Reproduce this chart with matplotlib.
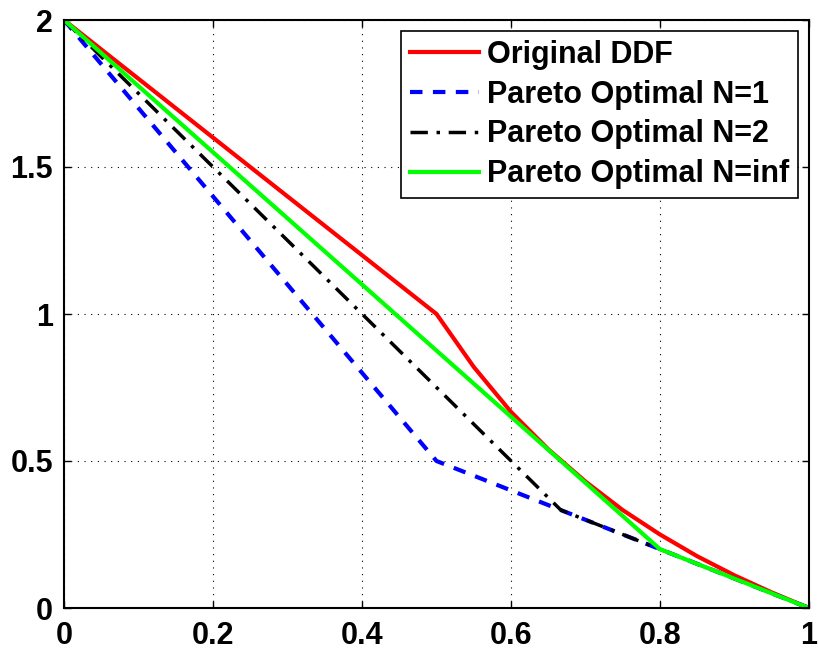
import numpy as np
import matplotlib
matplotlib.use('Agg')
import matplotlib.pyplot as plt

plt.rcParams['font.family'] = ['Liberation Sans', 'DejaVu Sans']
plt.rcParams['font.weight'] = 'bold'

# values
ddf_x = [0, 0.5, 0.55, 0.6, 0.65, 0.7, 0.75, 0.8, 0.85, 0.9, 0.95, 1.0]
ddf_y = [2, 1, 0.82, 0.667, 0.54, 0.43, 0.333, 0.25, 0.176, 0.111, 0.053, 0]
n1_x = [0, 0.5, 0.667, 0.8, 1.0]
n1_y = [2, 0.5, 0.333, 0.2, 0]
n2_x = [0, 0.667, 0.8, 1.0]
n2_y = [2, 0.333, 0.2, 0]
ninf_x = [0, 0.667, 0.8, 1.0]
ninf_y = [2, 0.5, 0.2, 0]
labels = ['Original DDF', 'Pareto Optimal N=1', 'Pareto Optimal N=2', 'Pareto Optimal N=inf']

fig = plt.figure(figsize=(8.2, 6.57), dpi=100)
ax = fig.add_axes([64/820, 49/657, 745/820, 588/657])

ax.plot(ddf_x, ddf_y, color='#ff0000', lw=3, label=labels[0])
ax.plot(n1_x, n1_y, color='#0000ff', lw=3, ls=(0, (3, 2.5)), label=labels[1])
ax.plot(n2_x, n2_y, color='black', lw=2.5, ls=(0, (5, 2.5, 1, 2.5)), label=labels[2])
ax.plot(ninf_x, ninf_y, color='#00ff00', lw=3, label=labels[3])

ax.set_xlim(0, 1)
ax.set_ylim(0, 2)
ax.set_xticks([0, 0.2, 0.4, 0.6, 0.8, 1])
ax.set_xticklabels(['0', '0.2', '0.4', '0.6', '0.8', '1'])
ax.set_yticks([0, 0.5, 1, 1.5, 2])
ax.set_yticklabels(['0', '0.5', '1', '1.5', '2'])
ax.tick_params(direction='in', length=5, width=1, labelsize=22, top=True, right=True)
ax.tick_params(axis='x', pad=9)
ax.tick_params(axis='y', pad=8)
ax.grid(True, color='black', ls=(0, (1, 5)), lw=0.8)
for s in ax.spines.values():
    s.set_linewidth(1.5)

leg = ax.legend(loc='upper right', fontsize=22, handlelength=2.25, fancybox=False,
                framealpha=1, edgecolor='black', borderaxespad=0.35, labelspacing=0.32,
                borderpad=0.3, handletextpad=0.26)
leg.get_frame().set_linewidth(1.2)

plt.savefig('out.png', dpi=100)
